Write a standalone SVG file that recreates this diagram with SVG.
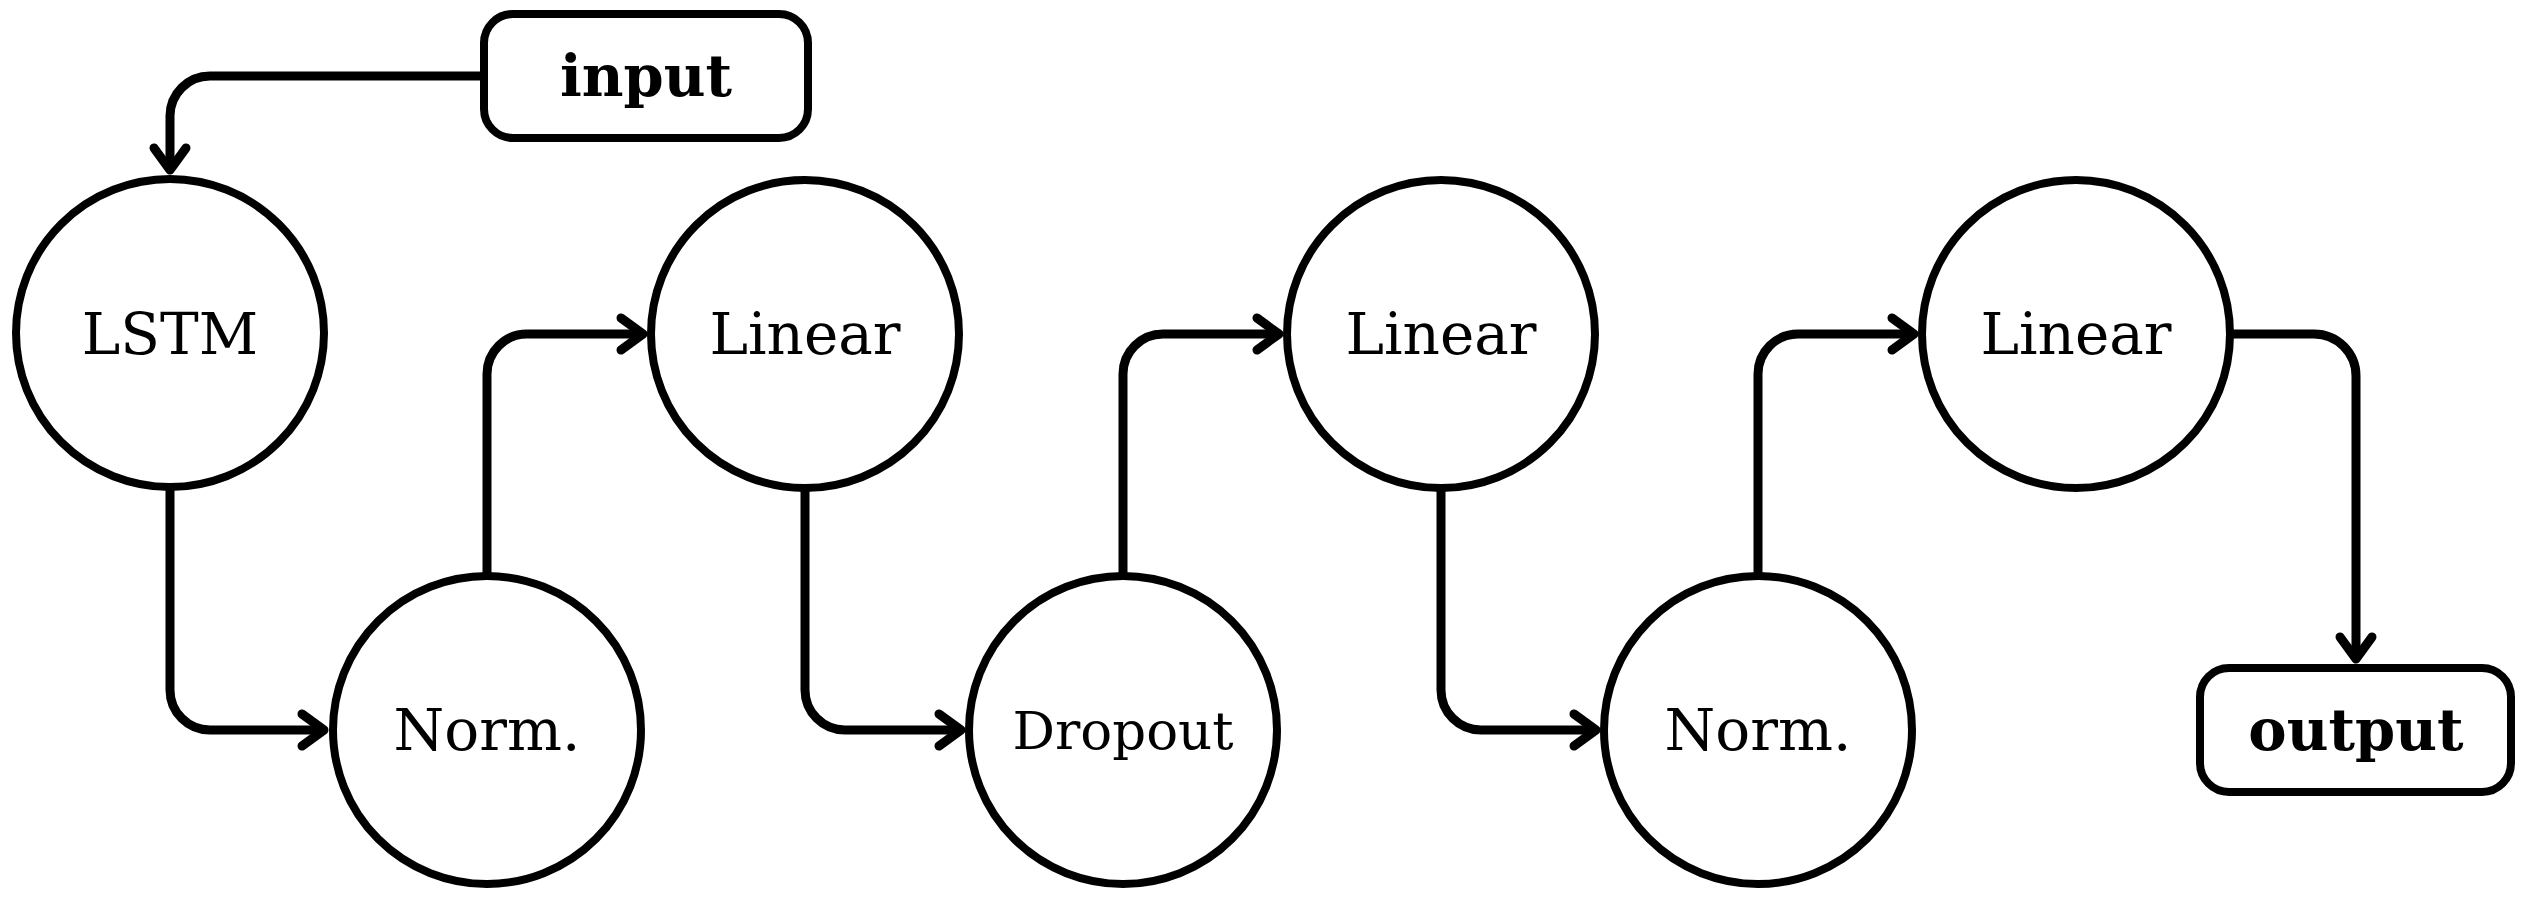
<svg xmlns="http://www.w3.org/2000/svg" width="2524" height="898" viewBox="0 0 2524 898">
<style>
.node{fill:#fff;stroke:#000;stroke-width:8}
.lbl{font-family:"DejaVu Serif",serif;font-size:58px;fill:#000;text-anchor:middle}
.io{font-family:"DejaVu Serif",serif;font-size:57.5px;font-weight:bold;fill:#000;text-anchor:middle}
.edge{fill:none;stroke:#000;stroke-width:9;stroke-linejoin:round}
</style>
<defs>
<marker id="arr" markerUnits="userSpaceOnUse" viewBox="-30 -20 40 40" refX="0" refY="0" markerWidth="40" markerHeight="40" orient="auto" overflow="visible">
<path d="M-22,-16 L0,0 L-22,16" fill="none" stroke="#000" stroke-width="9" stroke-linecap="round" stroke-linejoin="round"/>
</marker>
</defs>
<rect width="2524" height="898" fill="#fff"/>
<g id="connectors">
<path class="edge" marker-end="url(#arr)" d="M484,76 H210 A40,40 0 0 0 170,116 V170"/>
<path class="edge" marker-end="url(#arr)" d="M170,488 V690 A40,40 0 0 0 210,730 H324"/>
<path class="edge" marker-end="url(#arr)" d="M487,576 V374 A40,40 0 0 1 527,334 H643"/>
<path class="edge" marker-end="url(#arr)" d="M805,488 V690 A40,40 0 0 0 845,730 H961"/>
<path class="edge" marker-end="url(#arr)" d="M1123,576 V374 A40,40 0 0 1 1163,334 H1279"/>
<path class="edge" marker-end="url(#arr)" d="M1441,488 V690 A40,40 0 0 0 1481,730 H1596"/>
<path class="edge" marker-end="url(#arr)" d="M1758,576 V374 A40,40 0 0 1 1798,334 H1914"/>
<path class="edge" marker-end="url(#arr)" d="M2230,334 H2314 A42,42 0 0 1 2356,376 V659"/>
</g>
<g id="input"><rect class="node" x="484" y="14" width="324" height="124" rx="29"/><text class="io" x="646" y="96">input</text></g>
<g id="lstm"><circle class="node" cx="170" cy="333" r="154"/><text class="lbl" x="170" y="354">LSTM</text></g>
<g id="norm1"><circle class="node" cx="487" cy="730" r="154"/><text class="lbl" x="487" y="750">Norm.</text></g>
<g id="linear1"><circle class="node" cx="805" cy="334" r="154"/><text class="lbl" x="805" y="354">Linear</text></g>
<g id="dropout"><circle class="node" cx="1123" cy="730" r="154"/><text class="lbl" x="1123" y="749" style="font-size:53px">Dropout</text></g>
<g id="linear2"><circle class="node" cx="1441" cy="334" r="154"/><text class="lbl" x="1441" y="354">Linear</text></g>
<g id="norm2"><circle class="node" cx="1758" cy="730" r="154"/><text class="lbl" x="1758" y="750">Norm.</text></g>
<g id="linear3"><circle class="node" cx="2076" cy="334" r="154"/><text class="lbl" x="2076" y="354">Linear</text></g>
<g id="output"><rect class="node" x="2200" y="668" width="311" height="124" rx="29"/><text class="io" x="2356" y="750">output</text></g>
</svg>
